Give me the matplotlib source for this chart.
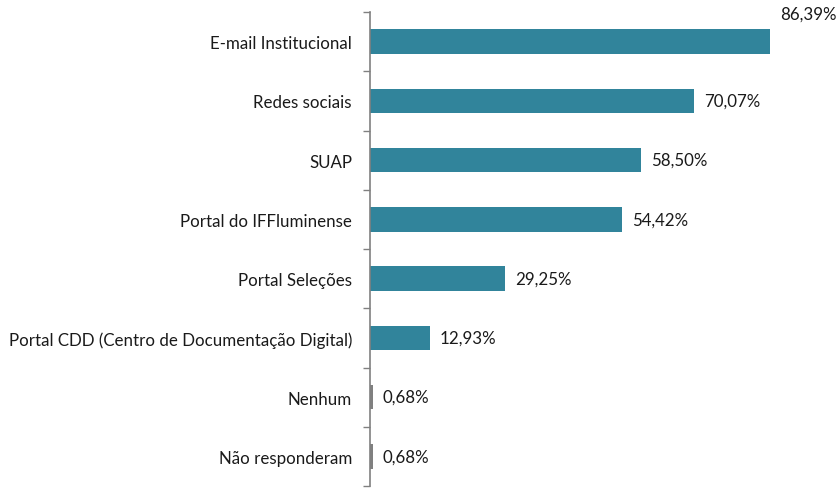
import matplotlib.pyplot as plt
import numpy as np

categories = ["E-mail Institucional", "Redes sociais", "SUAP", "Portal do IFFluminense",
              "Portal Seleções", "Portal CDD (Centro de Documentação Digital)",
              "Nenhum", "Não responderam"]
values = [86.39, 70.07, 58.50, 54.42, 29.25, 12.93, 0.68, 0.68]
labels = ["86,39%", "70,07%", "58,50%", "54,42%", "29,25%", "12,93%", "0,68%", "0,68%"]
colors = ["#31849B"] * 6 + ["#808080"] * 2


def main():
    plt.rcParams["font.family"] = ["Lato", "DejaVu Sans"]
    fig = plt.figure(figsize=(8.4, 4.89), dpi=100)
    ax = fig.add_axes([370 / 840, 2 / 489, 470 / 840, 474 / 489])

    y = np.arange(len(categories))
    ax.barh(y, values, height=0.41, color=colors)
    ax.set_ylim(len(categories) - 0.5, -0.5)
    ax.set_xlim(0, 101.5)

    for i, (v, lab) in enumerate(zip(values, labels)):
        if i == 0:
            # label sits above the end of the first bar
            ax.annotate(lab, (v, i), xytext=(7, 20), textcoords="offset points",
                        va="center", ha="left", fontsize=12.2, color="#1a1a1a")
        else:
            ax.annotate(lab, (v, i), xytext=(7, 0), textcoords="offset points",
                        va="center", ha="left", fontsize=12.2, color="#1a1a1a")

    ax.set_yticks(y)
    ax.set_yticklabels(categories, fontsize=12.2, color="#1a1a1a")
    ax.tick_params(axis="y", which="major", length=0, pad=13)
    ax.set_yticks(np.arange(len(categories) + 1) - 0.5, minor=True)
    ax.tick_params(axis="y", which="minor", length=5, color="#808080", width=1)
    ax.set_xticks([])

    for s in ["top", "right", "bottom"]:
        ax.spines[s].set_visible(False)
    ax.spines["left"].set_color("#808080")
    ax.spines["left"].set_linewidth(1.2)

    plt.savefig("out.png", facecolor="w")
    plt.close()


if __name__ == '__main__':
    main()
